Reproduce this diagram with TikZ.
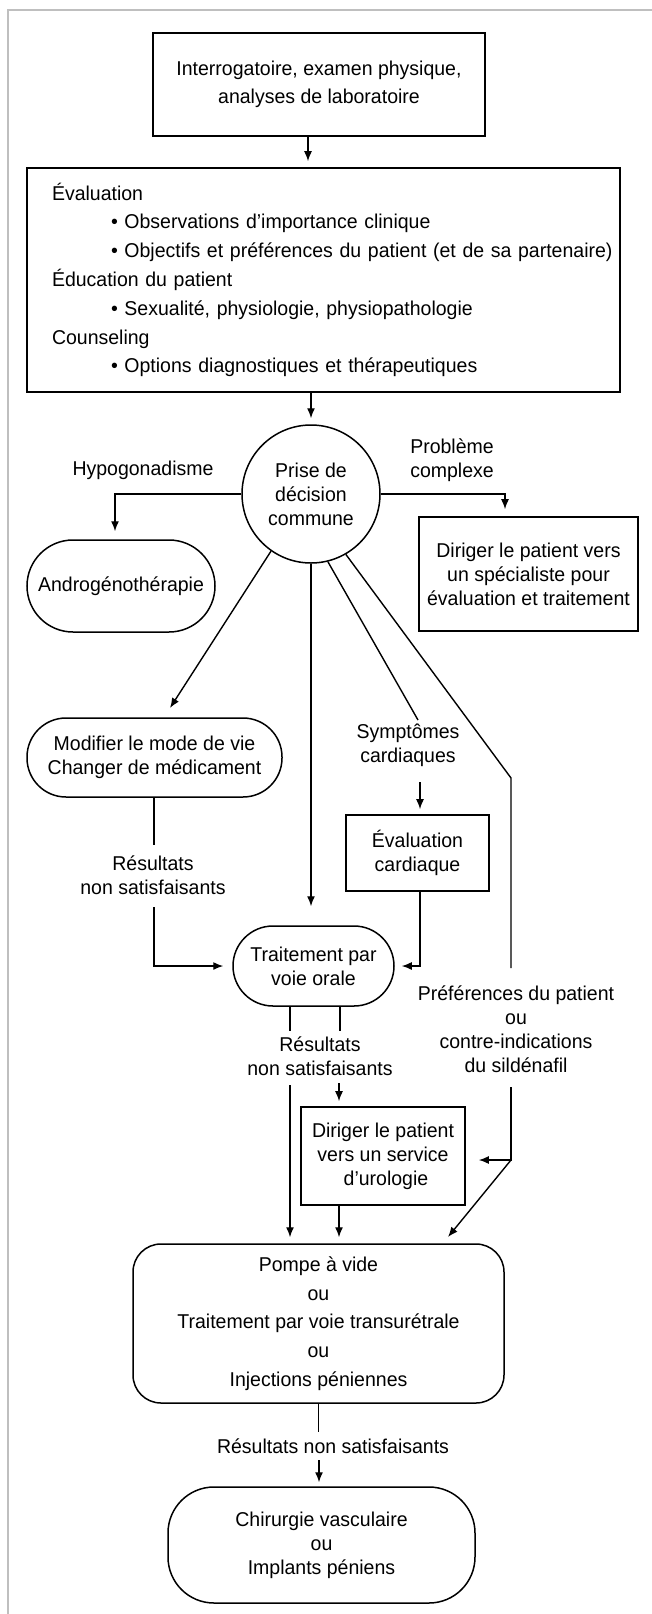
\documentclass[tikz,border=0pt]{standalone}
\usepackage{fontspec}
\setmainfont[FakeStretch=0.975]{Liberation Sans}
\usetikzlibrary{arrows.meta}
\begin{document}
\begin{tikzpicture}[x=1pt,y=-1pt,
  every node/.style={font=\fontsize{20}{24}\selectfont, inner sep=0pt},
  box/.style={draw, line width=1.6pt, align=center},
  pill/.style={draw, line width=1.5pt, rounded corners=#1, align=center},
  lbl/.style={align=center},
  arr/.style={-{Latex[length=10pt,width=8pt]}, line width=1.4pt},
  ln/.style={line width=1.4pt}]
\useasboundingbox (0,0) rectangle (652,1614);
\draw[line width=1.5pt, black!25] (8,1614) -- (8,10) -- (652,10);

% nodes
\node[box, line width=2pt, minimum width=332pt, minimum height=103pt, font=\fontsize{20}{28}\selectfont] (b1) at (319,84.5) {Interrogatoire, examen physique,\\analyses de laboratoire};
\node[box, minimum width=593pt, minimum height=224pt, text width=543pt, align=left, font=\fontsize{20}{28.8}\selectfont] (b2) at (323.5,280)
 {\mbox{Évaluation}\\
  \hspace*{59pt}\mbox{• Observations d’importance clinique}\\
  \hspace*{59pt}\mbox{• Objectifs et préférences du patient (et de sa partenaire)}\\
  \mbox{Éducation du patient}\\
  \hspace*{59pt}\mbox{• Sexualité, physiologie, physiopathologie}\\
  \mbox{Counseling}\\
  \hspace*{59pt}\mbox{• Options diagnostiques et thérapeutiques}};
\node[draw, circle, line width=1.5pt, minimum size=138pt, align=center] (c) at (311,494) {Prise de\\décision\\commune};
\node[pill=46pt, minimum width=188pt, minimum height=92pt] (an) at (121,586) {Androgénothérapie};
\node[box, minimum width=219pt, minimum height=114pt] (sp) at (528.5,574) {Diriger le patient vers\\un spécialiste pour\\évaluation et traitement};
\node[pill=39pt, minimum width=255pt, minimum height=79pt] (mo) at (154.5,757.5) {Modifier le mode de vie\\Changer de médicament};
\node[box, minimum width=143pt, minimum height=76pt] (ec) at (417.5,853) {Évaluation\\cardiaque};
\node[pill=40pt, minimum width=161pt, minimum height=80pt] (tr) at (313.5,966) {Traitement par\\voie orale};
\node[box, minimum width=164pt, minimum height=98pt] (ur) at (383,1156) {Diriger le patient\\vers un service\\\hspace*{6pt}d’urologie};
\node[pill=28pt, minimum width=371pt, minimum height=159pt, font=\fontsize{20}{28.8}\selectfont] (po) at (318.5,1323.5) {Pompe à vide\\ou\\Traitement par voie transurétrale\\ou\\Injections péniennes};
\node[pill=46pt, minimum width=307pt, minimum height=116pt] (la) at (321.5,1545) {Chirurgie vasculaire\\ou\\Implants péniens};

% labels
\node[lbl] (hy) at (143,470) {Hypogonadisme};
\node[lbl] (pc) at (452,460) {Problème\\complexe};
\node[lbl] (sy) at (408,745) {Symptômes\\cardiaques};
\node[lbl] (rs1) at (153,875) {Résultats\\non satisfaisants};
\node[lbl] (rs2) at (320,1056) {Résultats\\non satisfaisants};
\node[lbl] (pf) at (516,1029) {Préférences du patient\\ou\\contre-indications\\du sildénafil};
\node[lbl] (rs3) at (333,1446) {Résultats non satisfaisants};

% connectors
\coordinate (k1) at (308,0);
\draw[arr, shorten >=6pt] (b1.south -| k1) -- (b2.north -| k1);
\draw[arr, shorten >=6pt] (b2.south -| c.north) -- (c.north);
\coordinate (k2) at (115,0);
\draw[arr, shorten >=8pt] (c.west) -| (an.north -| k2);
\coordinate (k3) at (505,0);
\draw[arr, shorten >=7pt] (c.east) -| (sp.north -| k3);
\coordinate (k4) at (170,708);
\draw[arr] (c.-125) -- (k4);
\draw[arr, shorten >=19pt] (c.south) -- (c.south |- tr.north);
\coordinate (k5) at (418,720);
\draw[ln] (c.-76) -- (k5);
\coordinate (k6) at (420,782);
\draw[arr, shorten >=5pt] (k6) -- (ec.north -| k6);
\draw[arr, shorten >=7pt] (ec.south -| k6) |- (tr.east);
\coordinate (k7) at (154,845);
\coordinate (k8) at (154,907);
\draw[ln] (mo.south -| k7) -- (k7);
\draw[arr, shorten >=9pt] (k8) |- (tr.west);
\coordinate (k9) at (511,778);
\coordinate (k10) at (511,968);
\draw[ln] (c.-60) -- (k9) -- (k10);
\coordinate (k11) at (511,1087);
\coordinate (k12) at (511,1160);
\draw[arr, shorten >=13pt] (k11) -- (k12) -- (k12 -| ur.east);
\coordinate (k13) at (448,1237);
\draw[arr] (k12) -- (k13);
\coordinate (k14) at (290,1031);
\coordinate (k15) at (340,1031);
\draw[ln] (tr.south -| k14) -- (k14);
\draw[ln] (tr.south -| k15) -- (k15);
\coordinate (k16) at (290,1085);
\coordinate (k17) at (339,1083);
\draw[arr, shorten >=6pt] (k16) -- (k16 |- po.north);
\draw[arr, shorten >=5pt] (k17) -- (k17 |- ur.north);
\draw[arr, shorten >=6pt] (ur.south -| k17) -- (k17 |- po.north);
\coordinate (k18) at (319,1432);
\coordinate (k19) at (319,1460);
\draw[ln] (po.south) -- (po.south |- k18);
\draw[arr, shorten >=4pt] (k19) -- (k19 |- la.north);
\end{tikzpicture}
\end{document}
